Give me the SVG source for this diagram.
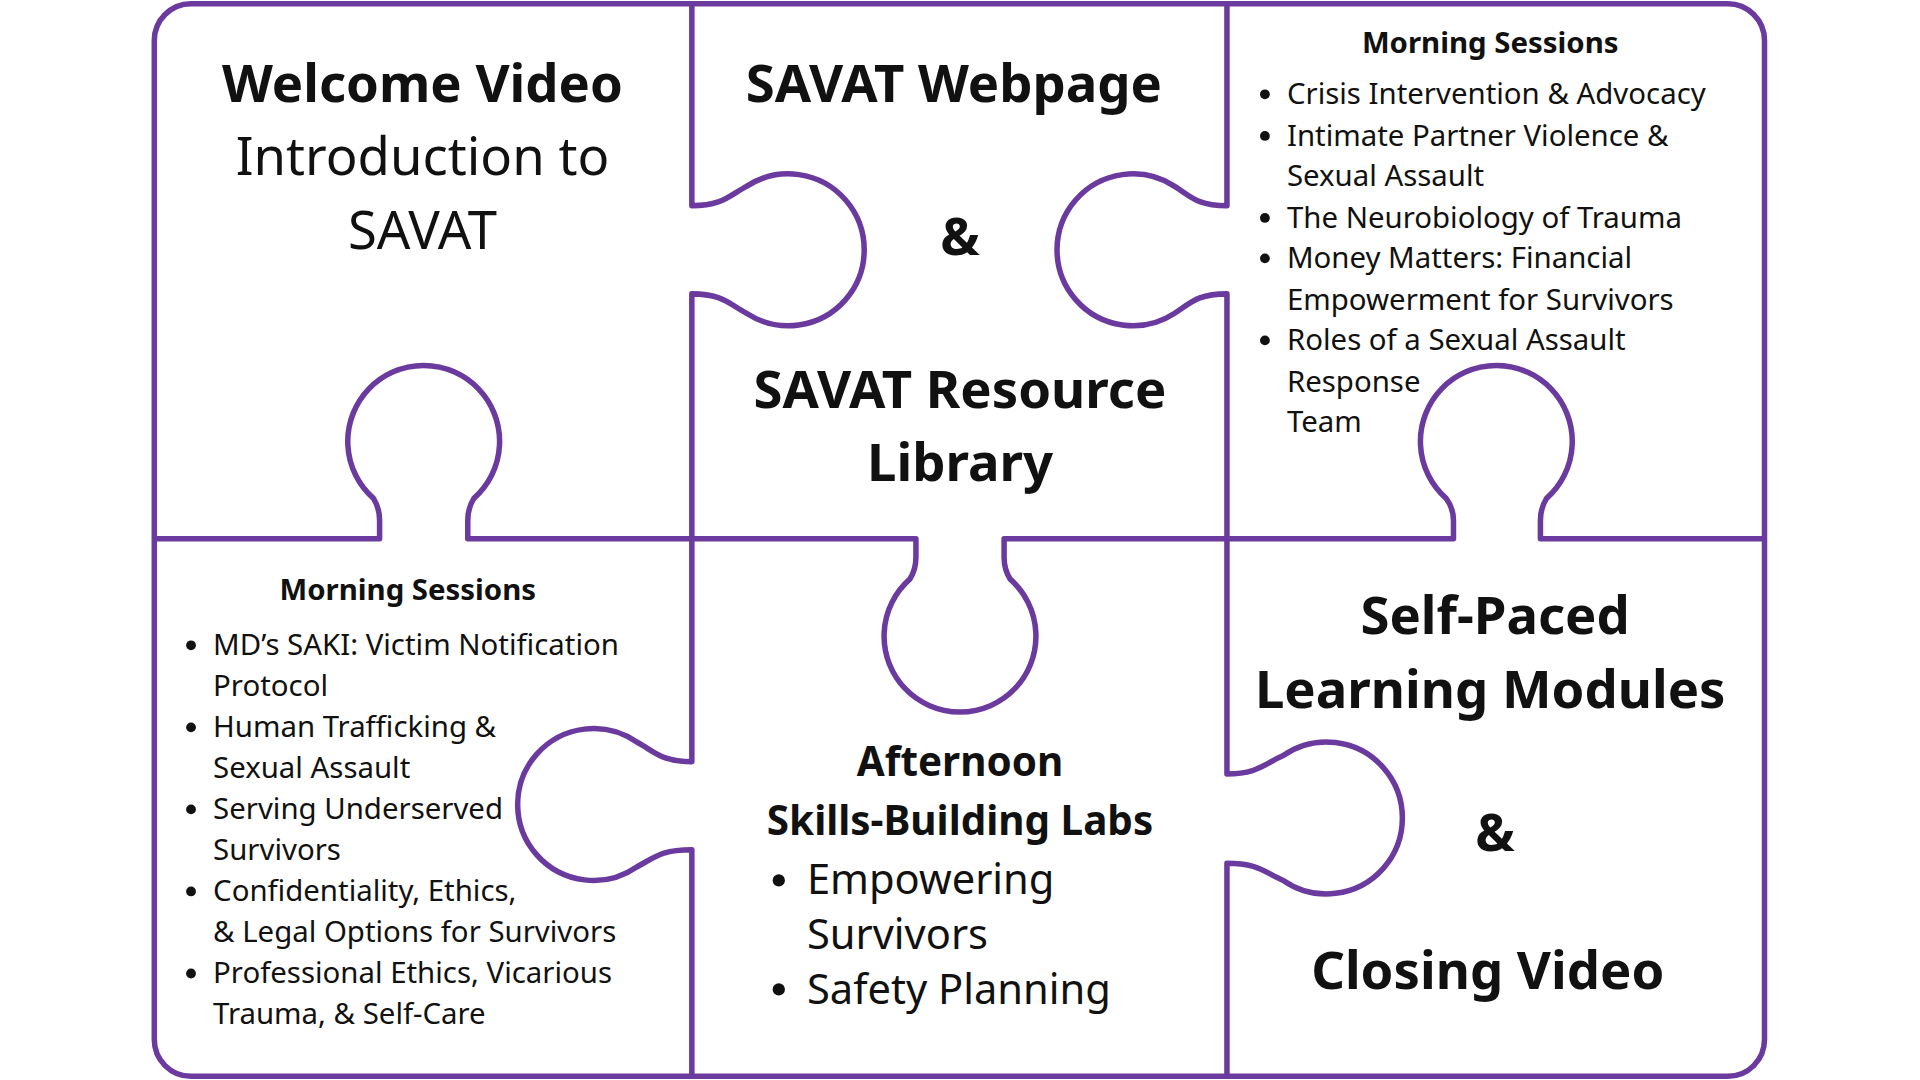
<svg xmlns="http://www.w3.org/2000/svg" width="1920" height="1080" viewBox="0 0 1920 1080">
<style>
.p{fill:none;stroke:#6b3a9e;stroke-width:4.5;stroke-linejoin:round}
text{font-family:"Noto Sans","Open Sans",sans-serif;fill:#111}
.h{font-weight:bold;font-size:43px;text-anchor:middle}
.r{font-size:43px;text-anchor:middle}
.s{font-weight:bold;font-size:24px;text-anchor:middle}
.b{font-size:24px}
.m{font-weight:bold;font-size:33px;text-anchor:middle}
.mb{font-size:34px}
.d{fill:#111}
</style>
<rect width="1920" height="1080" fill="#fff"/>
<g transform="scale(1.2245)">
<g id="connectors">
<rect class="p" x="126" y="3" width="1315" height="876" rx="30"/>
<path class="p" d="M565,3 V168 C590,168 595,160 610,152 A62,62 0 1 1 610,256 C595,248 590,240 565,240 V440"/>
<path class="p" d="M1002,3 V168 C977,168 972,160 959,152 A62,62 0 1 0 959,256 C972,248 977,240 1002,240 V440"/>
<path class="p" d="M126,440 H310 V425 Q310,415 305,407 A62,62 0 1 1 387,407 Q382,415 382,425 V440 H565"/>
<path class="p" d="M565,440 H748 V455 Q748,465 743,473 A62,62 0 1 0 825,473 Q820,465 820,455 V440 H1002"/>
<path class="p" d="M1002,440 H1187 V425 Q1187,415 1181,407 A62,62 0 1 1 1263,407 Q1258,415 1258,425 V440 H1441"/>
<path class="p" d="M565,440 V622 C540,622 535,614 520,606 A62,62 0 1 0 520,708 C535,700 540,694 565,694 V879"/>
<path class="p" d="M1002,440 V632 C1027,632 1032,624 1048,617 A62,62 0 1 1 1048,719 C1032,712 1027,705 1002,705 V879"/>
</g>
<g id="welcome">
<text class="h" x="345" y="83">Welcome Video</text>
<text class="r" x="345" y="143">Introduction to</text>
<text class="r" x="345" y="203">SAVAT</text>
</g>
<g id="webpage">
<text class="h" x="779" y="83">SAVAT Webpage</text>
<text class="h" x="784" y="208">&amp;</text>
<text class="h" x="784" y="333">SAVAT Resource</text>
<text class="h" x="784" y="393">Library</text>
</g>
<g id="morning1">
<text class="s" x="1217" y="43">Morning Sessions</text>
<g class="d">
<circle cx="1033" cy="77" r="4"/><circle cx="1033" cy="111" r="4"/><circle cx="1033" cy="178" r="4"/><circle cx="1033" cy="211" r="4"/><circle cx="1033" cy="278" r="4"/>
</g>
<g class="b">
<text x="1051" y="85">Crisis Intervention &amp; Advocacy</text>
<text x="1051" y="119">Intimate Partner Violence &amp;</text>
<text x="1051" y="152">Sexual Assault</text>
<text x="1051" y="186">The Neurobiology of Trauma</text>
<text x="1051" y="219">Money Matters: Financial</text>
<text x="1051" y="253">Empowerment for Survivors</text>
<text x="1051" y="286">Roles of a Sexual Assault</text>
<text x="1051" y="320">Response</text>
<text x="1051" y="353">Team</text>
</g>
</g>
<g id="morning2">
<text class="s" x="333" y="490">Morning Sessions</text>
<g class="d">
<circle cx="156" cy="527" r="4"/><circle cx="156" cy="594" r="4"/><circle cx="156" cy="661" r="4"/><circle cx="156" cy="728" r="4"/><circle cx="156" cy="795" r="4"/>
</g>
<g class="b">
<text x="174" y="535">MD’s SAKI: Victim Notification</text>
<text x="174" y="568">Protocol</text>
<text x="174" y="602">Human Trafficking &amp;</text>
<text x="174" y="635">Sexual Assault</text>
<text x="174" y="669">Serving Underserved</text>
<text x="174" y="702">Survivors</text>
<text x="174" y="736">Confidentiality, Ethics,</text>
<text x="174" y="769">&amp; Legal Options for Survivors</text>
<text x="174" y="803">Professional Ethics, Vicarious</text>
<text x="174" y="836">Trauma, &amp; Self-Care</text>
</g>
</g>
<g id="afternoon">
<text class="m" x="784" y="634">Afternoon</text>
<text class="m" x="784" y="682">Skills-Building Labs</text>
<g class="d"><circle cx="636" cy="719" r="5"/><circle cx="636" cy="808" r="5"/></g>
<g class="mb">
<text x="659" y="730">Empowering</text>
<text x="659" y="775">Survivors</text>
<text x="659" y="820">Safety Planning</text>
</g>
</g>
<g id="selfpaced">
<text class="h" x="1221" y="518">Self-Paced</text>
<text class="h" x="1217" y="578">Learning Modules</text>
<text class="h" x="1221" y="695">&amp;</text>
<text class="h" x="1215" y="808">Closing Video</text>
</g>
</g>
</svg>
